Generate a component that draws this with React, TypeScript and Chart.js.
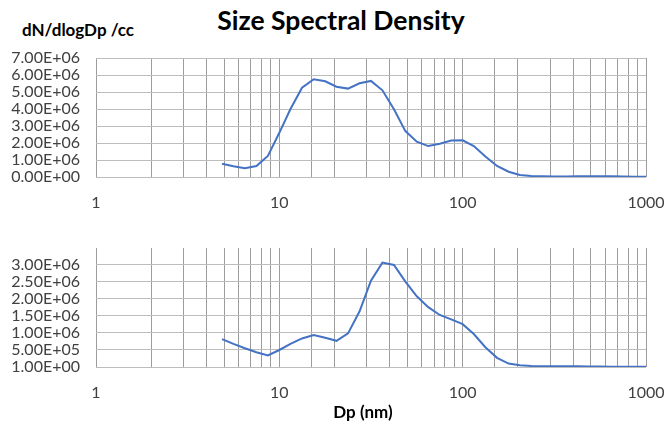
import React, { useEffect, useRef } from 'react';
import { Chart, registerables } from 'chart.js';

Chart.register(...registerables);

// Particle diameter Dp (nm), 16 bins per decade
const dp = [
  4.87, 5.62, 6.49, 7.5, 8.66, 10, 11.5, 13.3, 15.4, 17.8, 20.5, 23.7, 27.4, 31.6, 36.5, 42.2,
  48.7, 56.2, 64.9, 75, 86.6, 100, 115, 133, 154, 178, 205, 237, 274, 316, 365, 422, 487, 562,
  649, 750, 866, 1000,
];

// dN/dlogDp (/cc), upper panel
const topSeries = [
  780000, 630000, 510000, 650000, 1240000, 2600000, 4000000, 5250000, 5750000, 5630000, 5310000,
  5200000, 5510000, 5650000, 5100000, 3980000, 2700000, 2080000, 1820000, 1960000, 2140000,
  2160000, 1820000, 1200000, 650000, 310000, 120000, 60000, 40000, 30000, 30000, 40000, 50000,
  50000, 40000, 30000, 20000, 20000,
];

// dN/dlogDp (/cc), lower panel
const bottomSeries = [
  820000, 680000, 550000, 435000, 340000, 500000, 680000, 840000, 940000, 860000, 770000,
  990000, 1640000, 2540000, 3070000, 3000000, 2510000, 2080000, 1760000, 1530000, 1400000,
  1260000, 970000, 580000, 270000, 100000, 50000, 30000, 20000, 20000, 20000, 20000, 15000,
  15000, 10000, 10000, 10000, 10000,
];

const xTickLabels = [1, 10, 100, 1000];
const topYTicks = [0, 1000000, 2000000, 3000000, 4000000, 5000000, 6000000, 7000000];
const bottomYTicks = [1, 500001, 1000001, 1500001, 2000001, 2500001, 3000001];

const FONT = 'Lato, "Liberation Sans", sans-serif';

function fmtExp(v: number): string {
  const s = Number(v).toExponential(2);
  const [m, e] = s.split('e');
  const sign = e[0] === '-' ? '-' : '+';
  const digits = e.replace(/^[+-]/, '').padStart(2, '0');
  return `${m}E${sign}${digits}`;
}

function isDecade(v: number): boolean {
  const l = Math.log10(v);
  return Math.abs(l - Math.round(l)) < 1e-9 && xTickLabels.includes(Math.round(v));
}

type PanelProps = {
  values: number[];
  yMin: number;
  yMax: number;
  yTicks: number[];
  top: number;
};

function Panel({ values, yMin, yMax, yTicks, top }: PanelProps) {
  const ref = useRef<HTMLCanvasElement | null>(null);
  useEffect(() => {
    if (!ref.current) return;
    const chart = new Chart(ref.current, {
      type: 'line',
      data: {
        datasets: [
          {
            data: dp.map((x, i) => ({ x, y: values[i] })),
            borderColor: '#4472C4',
            borderWidth: 2,
            pointRadius: 0,
            tension: 0,
            fill: false,
          },
        ],
      },
      options: {
        animation: false,
        responsive: false,
        maintainAspectRatio: false,
        layout: { padding: { top: 18, right: 22, left: 0, bottom: 0 } },
        plugins: { legend: { display: false }, tooltip: { enabled: false } },
        scales: {
          x: {
            type: 'logarithmic',
            min: 1,
            max: 1000,
            border: { display: false },
            grid: { color: '#9c9c9c', drawTicks: false, lineWidth: 1 },
            ticks: {
              autoSkip: false,
              maxRotation: 0,
              padding: 16,
              color: '#404040',
              font: { family: FONT, size: 16 },
              callback: (v: any) => (isDecade(Number(v)) ? String(Math.round(Number(v))) : ''),
            },
            afterFit: (s: any) => {
              s.height = 43;
              s.paddingLeft = 0;
              s.paddingRight = 0;
            },
          },
          y: {
            type: 'linear',
            min: yMin,
            max: yMax,
            border: { display: false },
            grid: { color: '#bdbdbd', drawTicks: false, lineWidth: 1 },
            afterBuildTicks: (s: any) => {
              s.ticks = yTicks.map((v) => ({ value: v }));
            },
            ticks: {
              autoSkip: false,
              padding: 16,
              color: '#404040',
              font: { family: FONT, size: 16 },
              callback: (v: any) => fmtExp(Number(v)),
            },
            afterFit: (s: any) => {
              s.width = 96;
              s.paddingTop = 0;
              s.paddingBottom = 0;
            },
          },
        },
      },
    });
    return () => chart.destroy();
  }, [values, yMin, yMax, yTicks]);
  return (
    <canvas
      ref={ref}
      width={668}
      height={180}
      style={{ position: 'absolute', left: 0, top, width: 668, height: 180 }}
    />
  );
}

export default function App() {
  return (
    <div
      style={{
        position: 'absolute',
        left: 0,
        top: 0,
        width: 668,
        height: 427,
        background: '#fff',
        overflow: 'hidden',
      }}
    >
      <div
        style={{
          position: 'absolute',
          left: 341,
          top: 4,
          transform: 'translateX(-50%)',
          whiteSpace: 'nowrap',
          fontFamily: FONT,
          fontWeight: 700,
          fontSize: 26.5,
          color: '#000',
        }}
      >
        Size Spectral Density
      </div>
      <div
        style={{
          position: 'absolute',
          left: 22,
          top: 19,
          whiteSpace: 'nowrap',
          fontFamily: FONT,
          fontWeight: 700,
          fontSize: 17,
          color: '#000',
        }}
      >
        dN/dlogDp /cc
      </div>
      <Panel values={topSeries} yMin={0} yMax={7000000} yTicks={topYTicks} top={40} />
      <Panel values={bottomSeries} yMin={1} yMax={3500000} yTicks={bottomYTicks} top={230} />
      <div
        style={{
          position: 'absolute',
          left: 363,
          top: 401,
          transform: 'translateX(-50%)',
          whiteSpace: 'nowrap',
          fontFamily: FONT,
          fontWeight: 700,
          fontSize: 17,
          color: '#000',
        }}
      >
        Dp (nm)
      </div>
    </div>
  );
}
